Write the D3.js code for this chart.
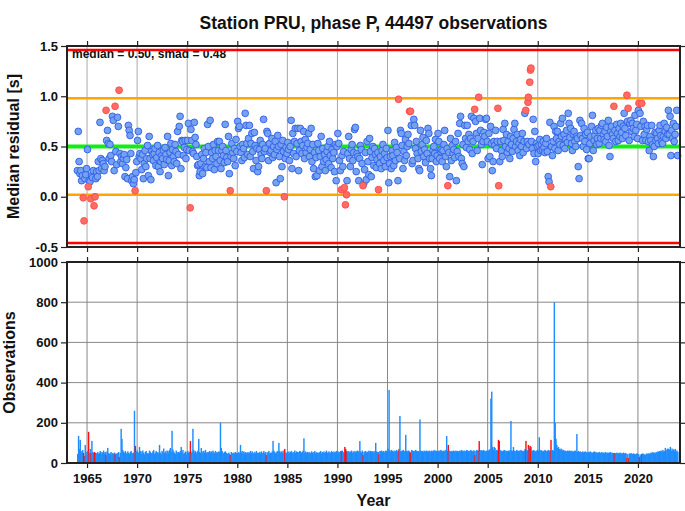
<!DOCTYPE html>
<html><head><meta charset="utf-8">
<script src="https://cdn.jsdelivr.net/npm/d3@7"></script>
<style>
body{margin:0;background:#fff;}
svg{display:block;font-family:"Liberation Sans",Arial,Helvetica,sans-serif;}
</style>
</head><body>
<svg id="chart" width="685" height="511"></svg>
<script>
const chartTitle = "Station PRU, phase P, 44497 observations";
const statsLabel = "median = 0.50, smad = 0.48";
const yLabelTop = "Median residual [s]";
const yLabelBottom = "Observations";
const xLabel = "Year";
const medianValue = 0.50;
const smadValue = 0.48;
const startYear = 1964;
const yearTicks = [1965,1970,1975,1980,1985,1990,1995,2000,2005,2010,2015,2020];
const residTicks = [-0.5,0.0,0.5,1.0,1.5];
const obsTicks = [0,200,400,600,800,1000];

// monthly median residuals, one row per year from 1964 (null = no blue point)
const residualMonthly = [
0.26,0.65,0.35,0.23,0.26,0.16,0.21,null,null,0.18,0.22,0.28,
0.47,null,0.16,0.15,null,0.21,0.19,0.26,null,null,0.18,0.25,
0.20,0.35,0.26,0.74,0.38,0.28,0.36,0.33,0.26,0.30,null,0.56,
0.66,0.53,0.38,0.52,0.41,0.35,0.80,0.76,0.26,null,0.45,0.32,
0.79,0.70,null,0.43,0.35,0.40,0.33,0.38,0.42,0.20,0.29,0.37,
0.18,0.71,0.66,0.61,0.43,0.16,0.20,0.13,0.17,null,0.24,0.35,
0.56,0.65,0.40,0.43,0.38,0.27,0.42,0.18,0.33,0.46,0.30,0.38,
0.51,0.21,0.60,0.38,0.17,0.45,0.42,0.36,0.43,0.48,0.31,0.39,
0.51,0.30,0.44,0.25,0.35,0.41,0.38,0.46,0.32,0.49,0.42,0.37,
0.60,0.21,0.36,0.44,0.53,0.31,0.47,0.40,0.35,0.52,0.45,0.33,
0.65,0.42,0.70,0.80,0.28,0.56,0.55,0.41,0.49,0.56,0.38,0.47,
0.56,0.73,0.46,null,0.67,0.56,0.45,0.43,0.74,0.59,0.52,0.40,
0.31,0.32,0.21,0.25,0.33,0.42,0.23,0.38,0.48,0.30,0.44,0.29,
0.72,0.50,0.35,0.76,0.29,0.44,0.38,0.52,0.27,0.46,0.40,0.33,
0.55,0.46,0.55,0.36,0.28,0.46,0.50,0.41,0.34,0.72,0.46,0.39,
0.35,0.60,0.23,null,0.40,0.53,0.44,0.38,0.48,0.31,0.57,0.45,
0.75,0.68,0.70,0.50,0.44,0.36,0.52,0.48,0.39,0.83,0.71,0.53,
0.42,0.58,0.71,0.40,0.53,0.63,0.45,0.28,0.64,0.51,0.36,0.48,
0.25,0.30,0.47,0.56,0.42,0.38,0.52,0.77,0.45,0.48,null,0.65,
0.63,0.36,0.53,0.44,0.46,0.58,0.39,0.50,0.42,0.55,0.14,0.47,
0.61,0.50,0.40,0.18,0.52,0.30,0.56,0.45,null,0.38,0.49,0.43,
0.54,0.47,0.36,0.50,0.76,0.28,0.63,0.43,0.55,0.68,0.40,0.53,
0.68,0.26,0.46,0.68,0.55,0.43,0.51,0.65,0.38,0.57,0.44,0.49,
0.53,0.63,0.40,0.47,0.68,0.35,0.52,0.28,0.44,0.20,0.39,0.21,
0.53,0.46,0.26,0.40,0.60,0.30,0.48,0.35,0.42,0.26,0.37,0.45,
0.50,0.33,0.55,0.41,0.29,0.47,0.38,0.44,0.25,0.52,0.16,0.50,
0.63,0.53,0.36,0.26,null,0.41,0.30,0.45,null,null,null,0.16,
0.43,0.60,0.38,0.30,0.47,0.52,0.36,0.44,0.67,0.69,0.25,0.43,
0.40,0.16,0.38,0.51,0.47,0.33,null,0.13,0.27,0.44,0.17,0.55,
0.35,0.22,0.58,0.45,0.20,0.39,0.50,0.31,0.48,0.42,0.29,0.37,
0.44,null,0.33,0.40,0.28,0.46,0.52,0.36,0.43,0.30,0.48,0.39,
0.66,0.14,0.33,0.40,0.28,0.46,0.41,0.31,0.54,0.36,0.49,0.44,
0.16,null,0.38,0.66,0.63,0.51,0.28,0.45,0.36,0.57,0.41,0.50,
0.62,0.53,null,null,0.71,0.33,0.36,0.77,0.71,0.48,0.55,0.43,
0.38,0.28,0.26,0.66,0.45,0.52,0.59,0.40,0.47,0.34,0.56,0.43,
0.68,0.63,0.38,0.28,0.21,0.38,0.46,0.50,0.43,0.57,0.35,0.41,
0.63,0.55,0.38,0.45,0.47,0.35,0.46,0.52,0.66,0.40,0.30,0.48,
null,0.44,0.20,0.58,0.36,0.51,0.43,0.47,0.39,0.55,0.16,0.45,
0.63,0.40,0.73,0.80,0.38,0.33,0.52,0.30,0.71,0.58,0.49,0.71,
0.55,0.62,0.47,0.58,0.80,0.43,0.55,0.78,null,0.75,0.63,0.46,
0.58,null,0.78,0.66,0.52,0.32,0.55,0.64,0.60,0.77,0.78,0.55,
0.38,0.63,0.40,0.70,0.53,0.26,0.35,0.55,0.51,0.66,0.48,0.55,
null,null,0.35,0.55,0.46,0.40,0.67,0.56,0.73,0.50,0.62,0.44,
0.55,0.48,0.38,0.60,0.52,0.45,0.58,0.67,0.73,0.50,0.55,0.62,
0.46,0.53,0.41,0.57,0.50,0.63,0.44,0.55,0.83,null,0.48,0.55,
null,0.52,null,null,0.55,0.48,0.77,0.43,0.65,0.35,0.53,0.50,
0.43,0.51,0.57,0.46,0.52,0.47,0.55,0.49,0.44,0.53,0.58,0.45,
0.20,0.15,0.74,null,0.50,0.41,0.55,0.70,0.48,0.65,0.58,0.65,
0.46,0.55,0.52,0.73,0.60,0.78,0.51,0.62,0.48,0.57,0.66,0.54,
0.83,0.73,0.59,0.68,0.53,0.46,0.62,0.65,0.55,0.50,0.60,0.58,
0.30,0.18,0.76,0.61,0.73,0.58,0.50,0.68,0.55,0.62,0.47,0.64,
0.38,0.38,0.53,0.60,0.70,0.81,0.46,0.56,0.61,0.66,0.52,0.58,
0.68,0.53,0.66,0.58,0.71,0.73,0.62,0.57,0.65,0.55,0.69,0.60,
0.76,0.51,0.40,0.65,0.70,0.62,0.58,null,0.66,0.55,0.72,0.63,
0.56,0.68,0.60,0.73,0.64,0.58,0.70,0.83,0.68,0.61,null,0.75,
null,0.56,0.73,0.76,0.65,0.73,0.68,0.60,0.81,0.66,0.72,0.58,
0.86,null,0.83,0.70,null,0.56,0.75,0.62,0.70,0.56,0.67,0.71,
0.55,0.46,0.60,0.56,0.71,0.52,0.40,0.50,0.64,0.56,0.63,0.58,
0.53,0.66,0.71,0.61,0.55,0.53,0.60,0.73,0.65,0.58,0.69,0.62,
0.86,0.62,0.80,0.41,0.66,0.58,0.73,0.55,0.62,0.70,0.86,0.41
];

// flagged (red) months: decimal year and residual
const redYears  = [1964.62,1964.70,1965.12,1965.38,1965.70,1965.80,1966.90,1967.80,1968.20,1969.80,
                   1975.30,1979.30,1982.90,1984.70,1990.40,1990.70,1990.80,1990.90,1992.55,1994.10,
                   1996.10,1997.20,1997.30,2001.02,2003.70,2004.10,2006.02,2006.10,2008.80,2009.02,
                   2009.06,2009.20,2009.27,2009.32,2011.30,2017.60,2018.90,2019.02,2020.10,2020.38];
const redValues = [-0.01,-0.24,0.10,-0.02,-0.09,0.00,0.86,0.90,1.06,0.06,
                   -0.11,0.06,0.06,0.00,0.07,0.09,-0.08,0.02,0.11,0.07,
                   0.97,0.85,0.85,0.11,0.87,0.99,0.88,0.11,0.86,0.94,
                   0.99,1.14,1.26,1.28,0.10,0.90,1.01,0.88,0.93,0.93];

// monthly observation counts, one row per year from 1964
const obsMonthly = [
45,135,70,115,60,50,65,50,35,90,40,55,
60,155,50,70,50,110,55,50,55,50,45,50,
55,45,50,60,45,55,50,62,48,55,40,58,
75,50,45,48,55,42,50,45,52,45,48,44,
50,55,30,50,170,120,65,55,50,60,45,52,
58,50,45,55,60,50,48,52,260,85,55,62,
55,50,80,60,45,58,62,50,42,55,60,48,
50,45,62,55,48,50,58,65,45,52,60,50,
55,48,90,52,45,60,55,72,50,58,48,62,
60,52,65,75,55,160,68,58,50,45,62,55,
48,55,50,60,80,52,65,45,50,58,42,55,
60,50,55,110,50,58,170,65,52,60,48,55,
62,120,55,50,75,58,48,60,52,65,50,55,
48,55,60,52,58,50,62,55,48,60,52,55,
50,58,55,200,75,60,52,48,55,58,50,45,
48,52,45,40,55,50,45,52,48,55,50,45,
50,55,48,90,52,60,45,58,50,55,48,52,
55,48,52,60,50,58,45,52,55,48,60,50,
52,50,55,48,58,50,52,60,48,55,40,52,
55,60,48,52,50,58,110,62,55,48,52,60,
55,100,60,52,58,50,62,55,70,52,48,55,
52,58,50,55,60,48,55,52,62,50,58,55,
55,52,60,58,50,55,62,123,52,58,50,55,
50,55,52,48,58,50,55,52,60,48,55,50,
52,50,55,60,48,55,52,58,50,55,62,50,
55,58,50,52,60,55,50,58,52,55,60,48,
58,52,55,60,60,62,55,52,80,70,60,55,
60,52,58,55,62,50,58,55,60,52,58,62,
55,60,109,58,52,62,40,55,58,60,52,55,
58,62,55,60,58,58,52,60,55,100,58,55,
55,45,60,58,62,55,60,58,52,62,60,55,
70,363,62,58,65,60,55,62,58,60,65,58,
62,70,234,60,58,62,65,58,60,140,60,58,
62,60,55,50,65,62,60,58,62,65,60,58,
60,58,217,62,58,60,55,62,58,60,62,58,
58,62,60,55,62,58,60,65,58,62,60,58,
60,62,58,65,62,58,60,62,58,65,134,60,
90,62,58,60,58,58,62,60,55,62,58,60,
58,60,62,58,65,60,58,62,60,58,65,62,
60,58,62,65,60,58,62,62,40,60,65,62,
62,109,58,65,62,60,65,62,58,60,62,58,
62,65,70,320,355,80,65,80,75,60,65,62,
115,110,65,62,60,58,62,65,60,62,58,60,
62,58,65,209,62,60,80,62,58,60,65,62,
58,62,60,65,62,58,60,62,70,110,65,62,
90,75,85,80,62,60,65,62,58,60,62,65,
62,128,60,65,62,58,60,62,65,60,58,62,
65,62,60,115,62,65,60,800,200,120,90,75,
80,70,65,72,68,62,65,60,62,58,60,62,
58,62,60,58,62,55,58,60,62,58,144,55,
60,55,58,52,55,58,52,55,58,50,55,52,
55,52,58,55,50,52,55,58,52,55,50,52,
52,55,50,52,55,50,52,48,55,52,50,52,
50,52,55,48,52,50,50,50,48,50,52,48,
50,48,52,45,50,48,52,46,50,48,25,45,
25,48,45,50,42,46,48,45,42,46,48,45,
45,30,38,45,45,48,45,42,40,46,48,44,
48,45,50,52,48,55,50,52,48,55,50,58,
55,60,58,62,55,65,58,60,75,62,68,72,
70,65,80,60,72,65,68,62,70,58,62,55
];

const svg = d3.select("#chart");
const L = 67, R = 680;
const topY0 = 46, topY1 = 247, botY0 = 262, botY1 = 463;

const x = d3.scaleLinear().domain([1963, 2024.2]).range([L, R]);
const yTop = d3.scaleLinear().domain([-0.5, 1.5]).range([topY1, topY0]);
const yBot = d3.scaleLinear().domain([0, 1000]).range([botY1, botY0]);

const blue = residualMonthly.map((v, i) => ({t: startYear + i / 12 + 1 / 24, v}))
  .filter(d => d.v !== null);
const red = redYears.map((t, i) => ({t, v: redValues[i]}));
const redMonths = new Set(redYears.map(t => Math.floor((t - startYear) * 12)));
const bars = obsMonthly.map((c, i) => ({t0: startYear + i / 12, t1: startYear + (i + 1) / 12, c, red: redMonths.has(i)}));

// title
svg.append("text").attr("x", (L + R) / 2).attr("y", 29).attr("text-anchor", "middle")
  .attr("font-size", 17.5).attr("font-weight", "bold").attr("fill", "#111").text(chartTitle);

// ---------- top panel ----------
const gTop = svg.append("g");
gTop.selectAll("line.vg").data(yearTicks).join("line").attr("class", "vg")
  .attr("x1", d => x(d)).attr("x2", d => x(d)).attr("y1", topY0).attr("y2", topY1)
  .attr("stroke", "#aaa").attr("stroke-width", 1);

gTop.append("text").attr("x", 72).attr("y", 58).attr("font-size", 12).attr("font-weight", "bold")
  .attr("fill", "#111").text(statsLabel);

const refLines = [
  {v: medianValue + 2 * smadValue, c: "#ff0000", w: 2.6},
  {v: medianValue - 2 * smadValue, c: "#ff0000", w: 2.6},
  {v: medianValue + smadValue, c: "#ffa500", w: 2.6},
  {v: medianValue - smadValue, c: "#ffa500", w: 2.6},
  {v: medianValue, c: "#11ee11", w: 4}
];
gTop.selectAll("line.ref").data(refLines).join("line").attr("class", "ref")
  .attr("x1", L).attr("x2", R).attr("y1", d => yTop(d.v)).attr("y2", d => yTop(d.v))
  .attr("stroke", d => d.c).attr("stroke-width", d => d.w);

gTop.selectAll("circle.b").data(blue).join("circle").attr("class", "b")
  .attr("cx", d => x(d.t)).attr("cy", d => yTop(d.v)).attr("r", 3.4)
  .attr("fill", "#74a2f0").attr("stroke", "#2f5ee8").attr("stroke-width", 0.9);
gTop.selectAll("circle.r").data(red).join("circle").attr("class", "r")
  .attr("cx", d => x(d.t)).attr("cy", d => yTop(d.v)).attr("r", 3.4)
  .attr("fill", "#ff6b66").attr("stroke", "#ff4b46").attr("stroke-width", 0.9);

function styleAxis(g) {
  g.selectAll(".domain").remove();
  g.selectAll(".tick line").attr("stroke", "#222").attr("stroke-width", 1.2);
  g.selectAll("text").attr("font-size", 13).attr("font-weight", "bold").attr("fill", "#111")
    .attr("font-family", '"Liberation Sans",Arial,sans-serif');
}
const fmt1 = d => d.toFixed(1);
svg.append("g").attr("transform", `translate(${L},0)`)
  .call(d3.axisLeft(yTop).tickValues(residTicks).tickFormat(fmt1).tickSize(6).tickPadding(3)).call(styleAxis);
svg.append("g").attr("transform", `translate(${R},0)`)
  .call(d3.axisRight(yTop).tickValues(residTicks).tickFormat("").tickSize(6)).call(styleAxis);
svg.append("g").attr("transform", `translate(0,${topY1})`)
  .call(d3.axisBottom(x).tickValues(yearTicks).tickFormat("").tickSize(5)).call(styleAxis);
svg.append("g").attr("transform", `translate(0,${topY0})`)
  .call(d3.axisTop(x).tickValues(yearTicks).tickFormat("").tickSize(5)).call(styleAxis);
svg.append("rect").attr("x", L).attr("y", topY0).attr("width", R - L).attr("height", topY1 - topY0)
  .attr("fill", "none").attr("stroke", "#222").attr("stroke-width", 2);

svg.append("text").attr("transform", `translate(19,${(topY0 + topY1) / 2}) rotate(-90)`)
  .attr("text-anchor", "middle").attr("font-size", 16).attr("font-weight", "bold").attr("fill", "#111")
  .text(yLabelTop);

// ---------- bottom panel ----------
const gBot = svg.append("g");
gBot.selectAll("line.hg").data(obsTicks.slice(1, -1)).join("line").attr("class", "hg")
  .attr("x1", L).attr("x2", R).attr("y1", d => yBot(d)).attr("y2", d => yBot(d))
  .attr("stroke", "#888").attr("stroke-width", 1);
gBot.selectAll("line.vg").data(yearTicks).join("line").attr("class", "vg")
  .attr("x1", d => x(d)).attr("x2", d => x(d)).attr("y1", botY0).attr("y2", botY1)
  .attr("stroke", "#888").attr("stroke-width", 1);

gBot.selectAll("rect.bar").data(bars).join("rect").attr("class", "bar")
  .attr("x", d => x(d.t0)).attr("width", d => x(d.t1) - x(d.t0) + 0.6)
  .attr("y", d => yBot(d.c)).attr("height", d => yBot(0) - yBot(d.c))
  .attr("fill", d => d.red ? "#ff1010" : "#1e8cff");

svg.append("g").attr("transform", `translate(${L},0)`)
  .call(d3.axisLeft(yBot).tickValues(obsTicks).tickFormat(d3.format("d")).tickSize(6).tickPadding(3)).call(styleAxis);
svg.append("g").attr("transform", `translate(${R},0)`)
  .call(d3.axisRight(yBot).tickValues(obsTicks).tickFormat("").tickSize(6)).call(styleAxis);
svg.append("g").attr("transform", `translate(0,${botY1})`)
  .call(d3.axisBottom(x).tickValues(yearTicks).tickFormat(d3.format("d")).tickSize(5).tickPadding(6)).call(styleAxis);
svg.append("g").attr("transform", `translate(0,${botY0})`)
  .call(d3.axisTop(x).tickValues(yearTicks).tickFormat("").tickSize(5)).call(styleAxis);
svg.append("rect").attr("x", L).attr("y", botY0).attr("width", R - L).attr("height", botY1 - botY0)
  .attr("fill", "none").attr("stroke", "#222").attr("stroke-width", 2);

svg.append("text").attr("transform", `translate(15,${(botY0 + botY1) / 2}) rotate(-90)`)
  .attr("text-anchor", "middle").attr("font-size", 16).attr("font-weight", "bold").attr("fill", "#111")
  .text(yLabelBottom);
svg.append("text").attr("x", (L + R) / 2).attr("y", 506).attr("text-anchor", "middle")
  .attr("font-size", 16).attr("font-weight", "bold").attr("fill", "#111").text(xLabel);
</script>
</body></html>
